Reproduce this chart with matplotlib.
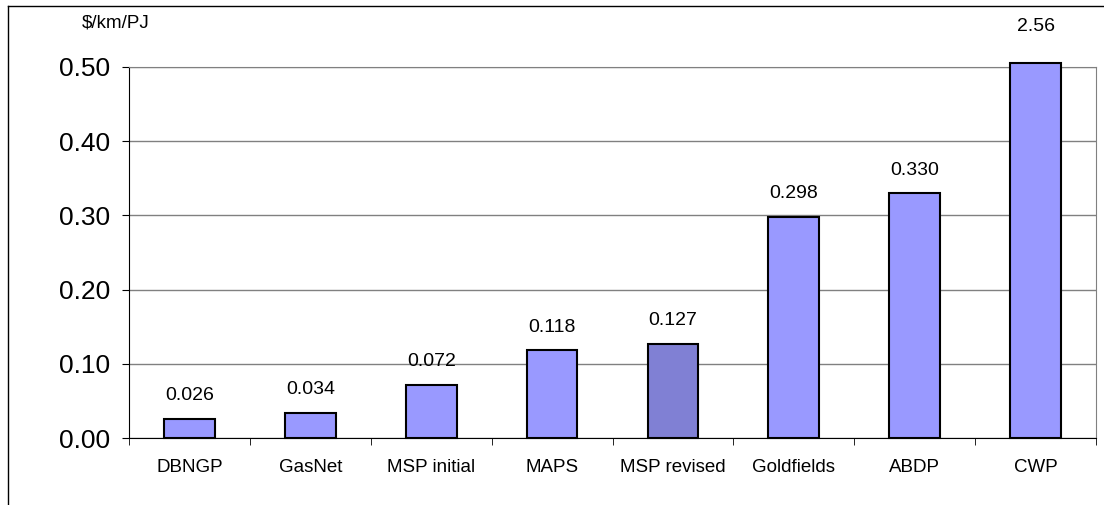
import matplotlib.pyplot as plt
import numpy as np
from matplotlib.lines import Line2D

plt.rcParams['font.family'] = ['Liberation Sans', 'DejaVu Sans']

pipelines = ['DBNGP', 'GasNet', 'MSP initial', 'MAPS', 'MSP revised', 'Goldfields', 'ABDP', 'CWP']
cost = [0.026, 0.034, 0.072, 0.118, 0.127, 0.298, 0.330, 2.56]
labels = ['0.026', '0.034', '0.072', '0.118', '0.127', '0.298', '0.330', '2.56']
colors = ['#9999ff'] * 4 + ['#8080d4'] + ['#9999ff'] * 3

ymax = 0.5
fig = plt.figure(figsize=(11.04, 5.05), dpi=100)
ax = fig.add_axes([129/1104, 1 - 438/505, (1096 - 129)/1104, (438 - 67)/505])

x = np.arange(len(pipelines))
shown = np.minimum(cost, ymax + 0.006)
ax.bar(x, shown, width=0.42, color=colors, edgecolor='black', linewidth=1.5,
       zorder=3, clip_on=False)

for xi, v, s in zip(x, cost, labels):
    if v > ymax:
        ax.annotate(s, (xi, ymax), xytext=(0, 29), textcoords='offset points',
                    ha='center', va='center', fontsize=14, annotation_clip=False)
    else:
        ax.annotate(s, (xi, v), xytext=(0, 16.5), textcoords='offset points',
                    ha='center', va='center', fontsize=14)

ax.set_xlim(-0.5, len(pipelines) - 0.5)
ax.set_ylim(0, ymax)
ax.set_yticks(np.arange(0, 0.51, 0.1))
ax.set_yticklabels(['%.2f' % t for t in np.arange(0, 0.51, 0.1)], fontsize=19)
ax.set_xticks(x)
ax.set_xticklabels(pipelines, fontsize=13.5)
ax.set_xticks(np.arange(-0.5, len(pipelines)), minor=True)
ax.tick_params(axis='x', which='major', length=0, pad=15)
ax.tick_params(axis='x', which='minor', length=5, direction='out')
ax.tick_params(axis='y', length=5, direction='out', pad=8.5)
ax.grid(axis='y', color='#808080', linewidth=1, zorder=0)

ax.spines['top'].set_color('#808080')
ax.spines['right'].set_color('#808080')
ax.spines['left'].set_color('black')
ax.spines['bottom'].set_color('black')

fig.text(82/1104, 1 - 23/505, '$/km/PJ', fontsize=13.5, ha='left', va='center')

# outer chart frame (only top and left visible)
fig.add_artist(Line2D([8/1104, 1], [1 - 6/505, 1 - 6/505], color='black', linewidth=1))
fig.add_artist(Line2D([8/1104, 8/1104], [0, 1 - 6/505], color='black', linewidth=1))

fig.savefig('out.png', dpi=100)
